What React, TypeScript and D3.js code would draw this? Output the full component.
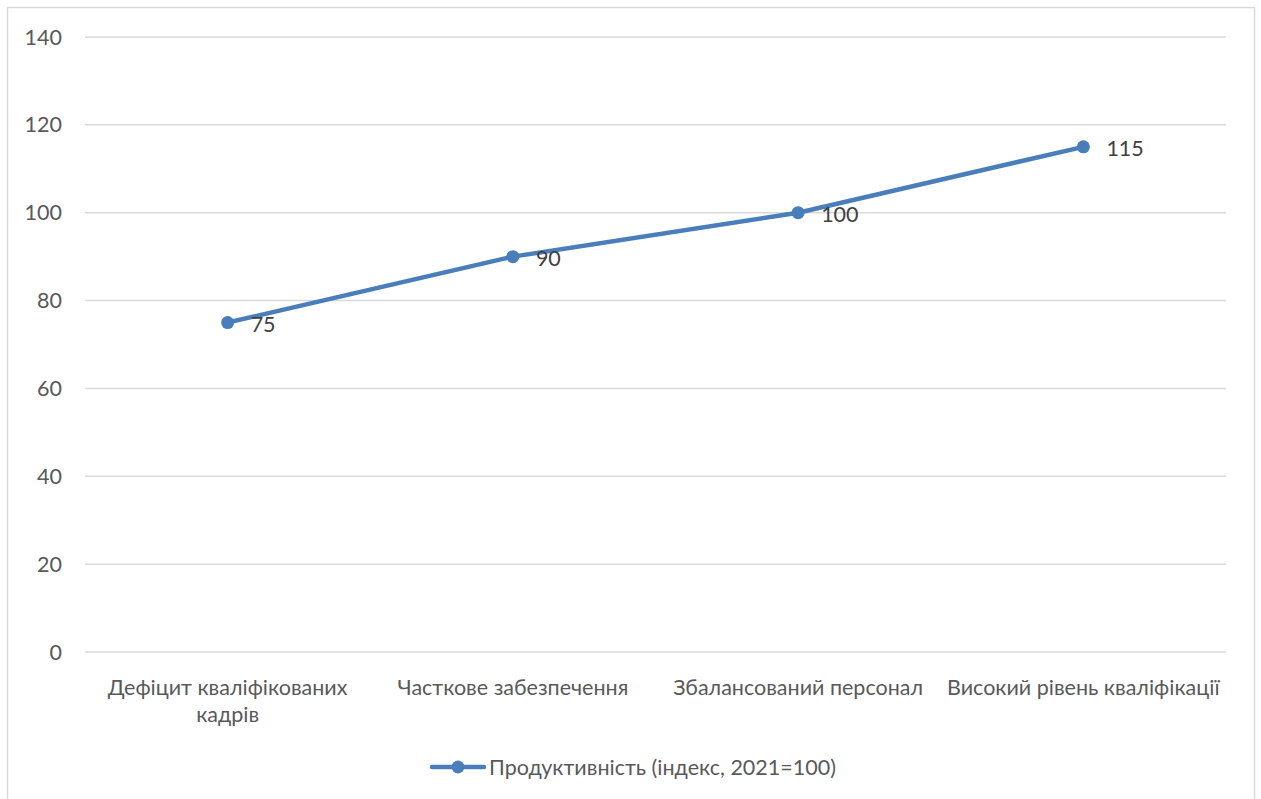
import React from 'react'
import * as d3 from 'd3'

const categories = [
  ['Дефіцит кваліфікованих', 'кадрів'],
  ['Часткове забезпечення'],
  ['Збалансований персонал'],
  ['Високий рівень кваліфікації'],
]
const values = [75, 90, 100, 115]
const yTicks = [0, 20, 40, 60, 80, 100, 120, 140]
const seriesName = 'Продуктивність (індекс, 2021=100)'

const W = 1261
const H = 799
const FONT = 'Lato, "Open Sans", sans-serif'
const BLUE = '#4a7ebb'
const TXT = '#595959'
const FS = 21.5

export default function App() {
  const x = d3.scaleBand<number>()
    .domain(d3.range(categories.length))
    .range([85, 1226])
  const y = d3.scaleLinear().domain([0, 140]).range([652, 37])

  const pts = values.map((v, i) => [x(i)! + x.bandwidth() / 2, y(v)] as [number, number])
  const path = d3.line()(pts)

  return (
    <svg width={W} height={H} style={{ position: 'absolute', left: 0, top: 0 }} fontFamily={FONT}>
      <rect x={0} y={0} width={W} height={H} fill="#fff" />
      <rect x={7.5} y={7.5} width={1247} height={820} fill="none" stroke="#d9d9d9" strokeWidth={1.5} />
      {yTicks.map(t => (
        <g key={t}>
          <line x1={85} x2={1226} y1={y(t)} y2={y(t)} stroke="#d9d9d9" strokeWidth={1.5} />
          <text x={62} y={y(t)} dy="0.35em" textAnchor="end" fontSize={FS} fill={TXT}>{t}</text>
        </g>
      ))}
      {categories.map((lines, i) => (
        <text key={i} x={x(i)! + x.bandwidth() / 2} y={695} textAnchor="middle" fontSize={FS} fill={TXT}>
          {lines.map((l, j) => (
            <tspan key={j} x={x(i)! + x.bandwidth() / 2} dy={j === 0 ? 0 : 27}>{l}</tspan>
          ))}
        </text>
      ))}
      <path d={path ?? ''} fill="none" stroke={BLUE} strokeWidth={4.5} strokeLinecap="round" />
      {pts.map((p, i) => (
        <g key={i}>
          <circle cx={p[0]} cy={p[1]} r={6.5} fill={BLUE} />
          <text x={p[0] + 23} y={p[1] + 2} dy="0.35em" fontSize={FS} fill="#404040">{values[i]}</text>
        </g>
      ))}
      <line x1={432} x2={484} y1={767} y2={767} stroke={BLUE} strokeWidth={4.5} strokeLinecap="round" />
      <circle cx={458} cy={767} r={6.5} fill={BLUE} />
      <text x={489} y={767} dy="0.35em" fontSize={FS} fill={TXT}>{seriesName}</text>
    </svg>
  )
}
